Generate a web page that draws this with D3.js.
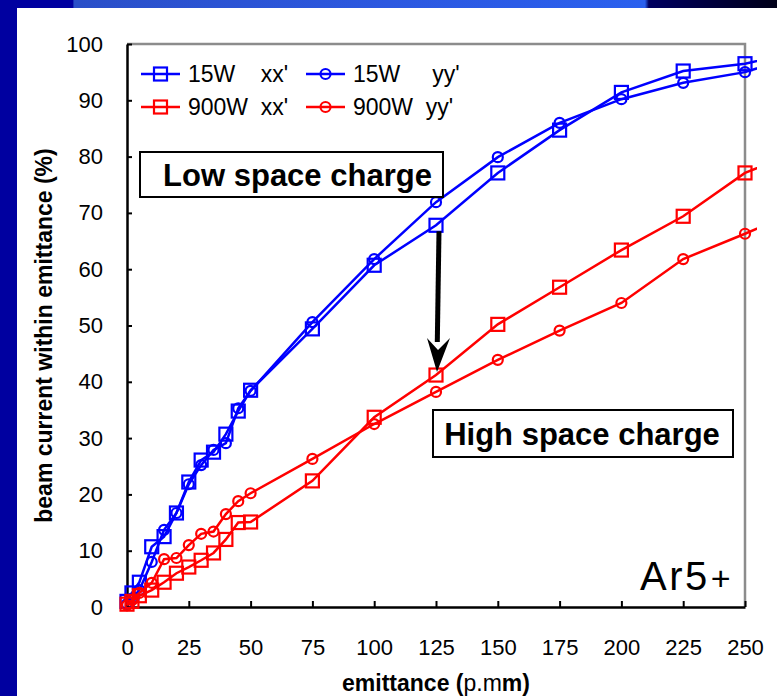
<!DOCTYPE html>
<html>
<head>
<meta charset="utf-8">
<script src="https://cdn.jsdelivr.net/npm/d3@7"></script>
<style>
  html, body { margin: 0; padding: 0; background: #fff; }
  svg { display: block; }
  text { font-family: Arial, "Liberation Sans", sans-serif; }
</style>
</head>
<body>
<svg id="chart" width="777" height="696"></svg>
<script>
// Emittance values (pi mm mrad) at which the beam fraction was measured
const emittance = [0, 2, 5, 10, 15, 20, 25, 30, 35, 40, 45, 50, 75, 100, 125, 150, 175, 200, 225, 250, 275];

// Fraction of beam current inside the given emittance (%)
const w15xx  = [1.0, 2.5, 4.4, 10.7, 12.5, 16.7, 22.2, 26.1, 27.5, 30.7, 34.8, 38.5, 49.4, 60.7, 67.8, 77.1, 84.7, 91.4, 95.2, 96.5, 99.0];
const w15yy  = [0.5, 1.5, 3.0, 8.0, 13.7, 16.7, 21.8, 25.2, 27.9, 29.1, 35.3, 38.4, 50.6, 61.8, 71.9, 79.9, 86.0, 90.2, 93.1, 95.0, 98.5];
const w900xx = [0.5, 1.0, 2.0, 3.0, 4.4, 6.0, 7.1, 8.3, 9.6, 12.0, 15.0, 15.1, 22.4, 33.7, 41.2, 50.2, 56.8, 63.4, 69.4, 77.1, 81.5];
const w900yy = [0.3, 1.2, 2.5, 4.3, 8.5, 8.7, 11.0, 13.0, 13.4, 16.5, 18.8, 20.2, 26.3, 32.5, 38.2, 43.9, 49.1, 54.0, 61.8, 66.3, 71.0];

const seriesNames  = ["15W    xx'", "15W     yy'", "900W  xx'", "900W  yy'"];
const seriesColors = ["#0000ff", "#0000ff", "#ff0000", "#ff0000"];
const seriesMarks  = ["square", "circle", "square", "circle"];
const seriesValues = [w15xx, w15yy, w900xx, w900yy];

const xTicks = [0, 25, 50, 75, 100, 125, 150, 175, 200, 225, 250];
const yTicks = [0, 10, 20, 30, 40, 50, 60, 70, 80, 90, 100];

const svg = d3.select("#chart");

// slide frame: top strip and left strip
const defs = svg.append("defs");
const grad = defs.append("linearGradient").attr("id", "topband").attr("x1", 0).attr("x2", 1);
[[0, "#0000a0"], [0.094, "#0000a0"], [0.095, "#2a4fc8"], [0.5, "#2c58e0"], [0.83, "#2a60ee"],
 [0.835, "#000060"], [1, "#000018"]].forEach(([o, c]) =>
  grad.append("stop").attr("offset", o).attr("stop-color", c));
svg.append("rect").attr("x", 0).attr("y", 0).attr("width", 777).attr("height", 8).attr("fill", "url(#topband)");
svg.append("rect").attr("x", 0).attr("y", 0).attr("width", 17).attr("height", 696).attr("fill", "#0000a0");

const x = d3.scaleLinear().domain([0, 250]).range([127, 745]);
const y = d3.scaleLinear().domain([0, 100]).range([607, 44]);

// plot frame: grey top / right edges
svg.append("path")
  .attr("d", `M${x(0)},${y(100)}H${x(250)}V${y(0)}`)
  .attr("fill", "none").attr("stroke", "#8c8c8c").attr("stroke-width", 2.5);

// axes with inward ticks
const yAxis = d3.axisLeft(y).tickValues(yTicks).tickSizeInner(-5).tickSizeOuter(0).tickPadding(24);
const xAxis = d3.axisBottom(x).tickValues(xTicks).tickSizeInner(-6).tickSizeOuter(0).tickPadding(32);

const gy = svg.append("g").attr("transform", `translate(${x(0)},0)`).call(yAxis);
const gx = svg.append("g").attr("transform", `translate(0,${y(0)})`).call(xAxis);
[gx, gy].forEach(g => {
  g.select(".domain").attr("stroke", "#000").attr("stroke-width", 2.5);
  g.selectAll(".tick line").attr("stroke", "#000").attr("stroke-width", 2);
  g.selectAll(".tick text").attr("fill", "#000").attr("font-size", 22)
    .attr("font-family", "Arial, 'Liberation Sans', sans-serif");
});

// axis titles
svg.append("text")
  .attr("transform", `translate(52,${(y(0) + y(100)) / 2 + 10}) rotate(-90)`)
  .attr("text-anchor", "middle").attr("font-size", 23).attr("font-weight", "bold")
  .text("beam current  within emittance (%)");

const xt = svg.append("text").attr("x", (x(0) + x(250)) / 2).attr("y", 691)
  .attr("text-anchor", "middle").attr("font-size", 23).attr("font-weight", "bold");
xt.append("tspan").text("emittance (");
xt.append("tspan").attr("font-weight", "normal").text("p.m");
xt.append("tspan").text("m)");

// data lines, clipped just past the right frame
defs.append("clipPath").attr("id", "plotclip")
  .append("rect").attr("x", 100).attr("y", 30).attr("width", 657).attr("height", 600);

const line = d3.line().x((d, i) => x(emittance[i])).y(d => y(d));
const plot = svg.append("g");

function drawMarker(g, kind, cx, cy, color) {
  if (kind === "square") {
    g.append("rect").attr("x", cx - 6.5).attr("y", cy - 6.5).attr("width", 13).attr("height", 13)
      .attr("fill", "none").attr("stroke", color).attr("stroke-width", 2.2);
  } else {
    g.append("circle").attr("cx", cx).attr("cy", cy).attr("r", 5)
      .attr("fill", "none").attr("stroke", color).attr("stroke-width", 2.2);
  }
}

seriesValues.forEach((vals, s) => {
  const g = plot.append("g");
  g.append("path").datum(vals).attr("d", line).attr("clip-path", "url(#plotclip)")
    .attr("fill", "none").attr("stroke", seriesColors[s]).attr("stroke-width", 2.5);
  vals.forEach((v, i) => {
    if (emittance[i] <= 250) drawMarker(g, seriesMarks[s], x(emittance[i]), y(v), seriesColors[s]);
  });
});

// legend
const legendPos = [[141, 74], [306, 74], [141, 107], [306, 107]];
seriesNames.forEach((name, s) => {
  const [lx, ly] = legendPos[s];
  const g = svg.append("g");
  g.append("line").attr("x1", lx).attr("x2", lx + 39).attr("y1", ly).attr("y2", ly)
    .attr("stroke", seriesColors[s]).attr("stroke-width", 2.5);
  drawMarker(g, seriesMarks[s], lx + 19.5, ly, seriesColors[s]);
  g.append("text").attr("x", lx + 47).attr("y", ly + 8).attr("font-size", 23)
    .attr("xml:space", "preserve").style("white-space", "pre").text(name);
});

// annotation boxes
function labelBox(x0, y0, w, h, txt, shift) {
  svg.append("rect").attr("x", x0).attr("y", y0).attr("width", w).attr("height", h)
    .attr("fill", "#fff").attr("stroke", "#000").attr("stroke-width", 2);
  svg.append("text").attr("x", x0 + w / 2 + shift).attr("y", y0 + h / 2 + 11)
    .attr("text-anchor", "middle").attr("font-size", 31).attr("font-weight", "bold").text(txt);
}
labelBox(140, 152, 303, 45, "Low space charge", 6);
labelBox(433, 410, 300, 47, "High space charge", -1);

// arrow from the low- to the high-space-charge point at 125
const i125 = emittance.indexOf(125);
const ax0 = x(125) + 3, ay0 = y(w15xx[i125]) + 6;
const ax1 = x(125) + 1, ay1 = y(w900xx[i125]) - 3;
svg.append("line").attr("x1", ax0).attr("y1", ay0).attr("x2", ax1 + 0.3).attr("y2", ay1 - 30)
  .attr("stroke", "#000").attr("stroke-width", 5);
svg.append("path")
  .attr("d", `M${ax1 - 10},${ay1 - 34}L${ax1},${ay1}L${ax1 + 13},${ay1 - 34}L${ax1 + 1},${ay1 - 22}Z`)
  .attr("fill", "#000");

// ion species label
const ion = svg.append("text").attr("x", 640).attr("y", 590).attr("font-size", 40).attr("letter-spacing", 2.5);
ion.append("tspan").text("Ar5");
ion.append("tspan").attr("font-size", 34).attr("dx", 1).text("+");
</script>
</body>
</html>
